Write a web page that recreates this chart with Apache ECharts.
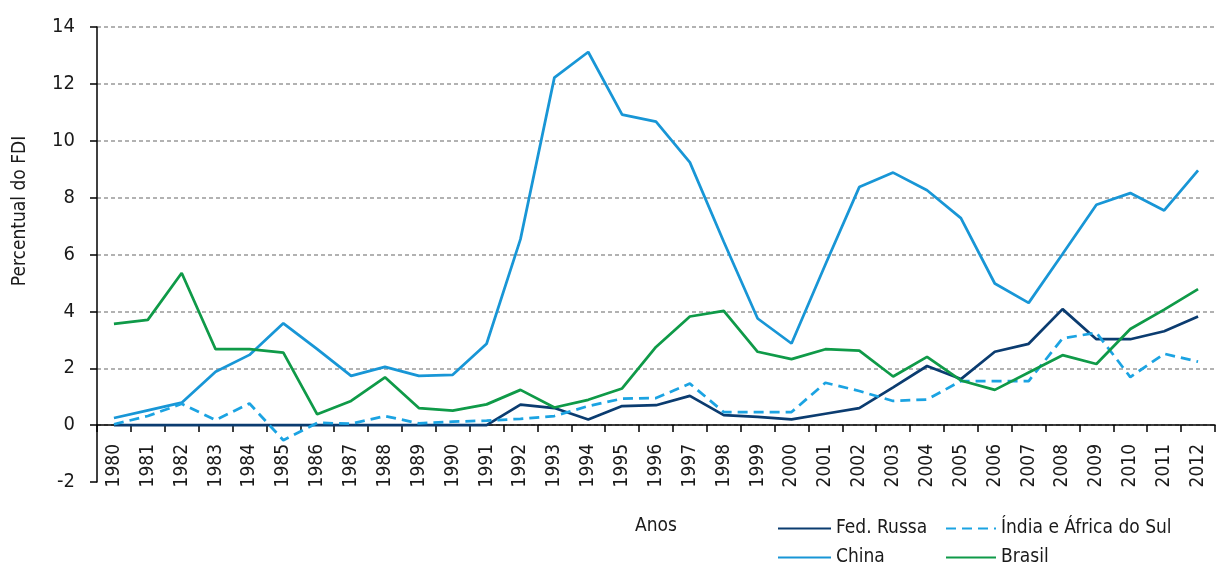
<!DOCTYPE html>
<html>
<head>
<meta charset="utf-8">
<script src="https://cdn.jsdelivr.net/npm/echarts@6/dist/echarts.min.js"></script>
<style>
  html, body { margin: 0; padding: 0; background: #fff; }
  #main { width: 1218px; height: 565px; }
</style>
</head>
<body>
<div id="main"></div>
<script>
// dados
var anos = ['1980','1981','1982','1983','1984','1985','1986','1987','1988','1989','1990',
  '1991','1992','1993','1994','1995','1996','1997','1998','1999','2000','2001','2002',
  '2003','2004','2005','2006','2007','2008','2009','2010','2011','2012'];

var fedRussa = [0,0,0,0,0,0,0,0,0,0,0,0,0.72,0.6,0.2,0.67,0.7,1.03,0.35,0.29,0.2,
  0.4,0.6,1.33,2.08,1.62,2.58,2.86,4.08,3.02,3.02,3.3,3.82];
var china = [0.25,0.52,0.79,1.88,2.47,3.58,2.67,1.73,2.05,1.73,1.77,2.86,6.54,12.22,
  13.12,10.92,10.67,9.24,6.45,3.75,2.87,5.65,8.37,8.88,8.26,7.28,4.98,4.3,6.02,7.75,
  8.16,7.55,8.96];
var indiaAfrica = [0.03,0.32,0.75,0.18,0.76,-0.53,0.08,0.05,0.32,0.06,0.12,0.16,0.22,
  0.32,0.67,0.93,0.95,1.46,0.46,0.46,0.46,1.49,1.2,0.85,0.9,1.55,1.55,1.55,3.05,3.25,
  1.69,2.51,2.23];
var brasil = [3.56,3.7,5.35,2.67,2.67,2.55,0.38,0.85,1.68,0.6,0.51,0.73,1.24,0.62,0.89,
  1.29,2.75,3.82,4.02,2.58,2.32,2.67,2.62,1.71,2.4,1.57,1.24,1.85,2.46,2.15,3.38,4.06,
  4.78];

var fonte = "'Liberation Sans Narrow', 'DejaVu Sans Condensed', 'Roboto', sans-serif";

var myChart = echarts.init(document.getElementById('main'));

var legendaBase = {
  orient: 'vertical',
  top: 519, height: 60,
  padding: 0,
  itemWidth: 53, itemHeight: 14, itemGap: 10,
  itemStyle: { color: 'rgba(0,0,0,0)', borderColor: 'rgba(0,0,0,0)', borderWidth: 0, opacity: 0 },
  textStyle: { fontFamily: fonte, fontSize: 19, color: '#1a1a1a' }
};

var option = {
  animation: false,
  textStyle: { fontFamily: fonte, color: '#1a1a1a' },
  grid: { left: 97, right: 3, top: 27, bottom: 83, containLabel: false, outerBoundsMode: 'none' },
  legend: [
    Object.assign({}, legendaBase, { data: ['Fed. Russa', 'China'], left: 777 }),
    Object.assign({}, legendaBase, { data: ['Índia e África do Sul', 'Brasil'], left: 945, itemWidth: 50 })
  ],
  graphic: [
    {
      type: 'text',
      x: 20, y: 211,
      rotation: Math.PI / 2,
      style: {
        text: 'Percentual do FDI',
        fontFamily: fonte, fontSize: 19, fill: '#1a1a1a',
        align: 'center', verticalAlign: 'middle'
      }
    }
  ],
  xAxis: {
    type: 'category',
    data: anos,
    position: 'bottom',
    offset: -57,  // eixo na linha do zero
    name: 'Anos',
    nameLocation: 'middle',
    nameGap: 92,
    nameTextStyle: { fontFamily: fonte, fontSize: 19, color: '#1a1a1a' },
    axisLine: { onZero: false, lineStyle: { color: '#000', width: 1.5 } },
    axisTick: { show: true, length: 7, lineStyle: { color: '#000', width: 1.5 } },
    axisLabel: { rotate: 90, margin: 19, fontSize: 19, color: '#1a1a1a', interval: 0 }
  },
  yAxis: {
    type: 'value',
    min: -2, max: 14, interval: 2,
    axisLine: { show: true, lineStyle: { color: '#000', width: 1.5 } },
    axisTick: { show: true, length: 7, lineStyle: { color: '#000', width: 1.5 } },
    axisLabel: { margin: 22, fontSize: 20, color: '#1a1a1a' },
    splitLine: {
      show: true,
      lineStyle: {
        color: ['rgba(0,0,0,0)', '#999', '#999', '#999', '#999', '#999', '#999', '#999', '#999'],
        type: [4, 3], width: 1.5
      }
    }
  },
  series: [
    {
      name: 'Fed. Russa', type: 'line', data: fedRussa,
      symbol: 'none', color: '#0b3c70',
      lineStyle: { width: 2.75, color: '#0b3c70' }
    },
    {
      name: 'China', type: 'line', data: china,
      symbol: 'none', color: '#1896d6',
      lineStyle: { width: 2.75, color: '#1896d6' }
    },
    {
      name: 'Índia e África do Sul', type: 'line', data: indiaAfrica,
      symbol: 'none', color: '#1ba3e2',
      lineStyle: { width: 2.75, color: '#1ba3e2', type: [10, 6] }
    },
    {
      name: 'Brasil', type: 'line', data: brasil,
      symbol: 'none', color: '#0f9a48',
      lineStyle: { width: 2.75, color: '#0f9a48' }
    }
  ]
};

myChart.setOption(option);
</script>
</body>
</html>
